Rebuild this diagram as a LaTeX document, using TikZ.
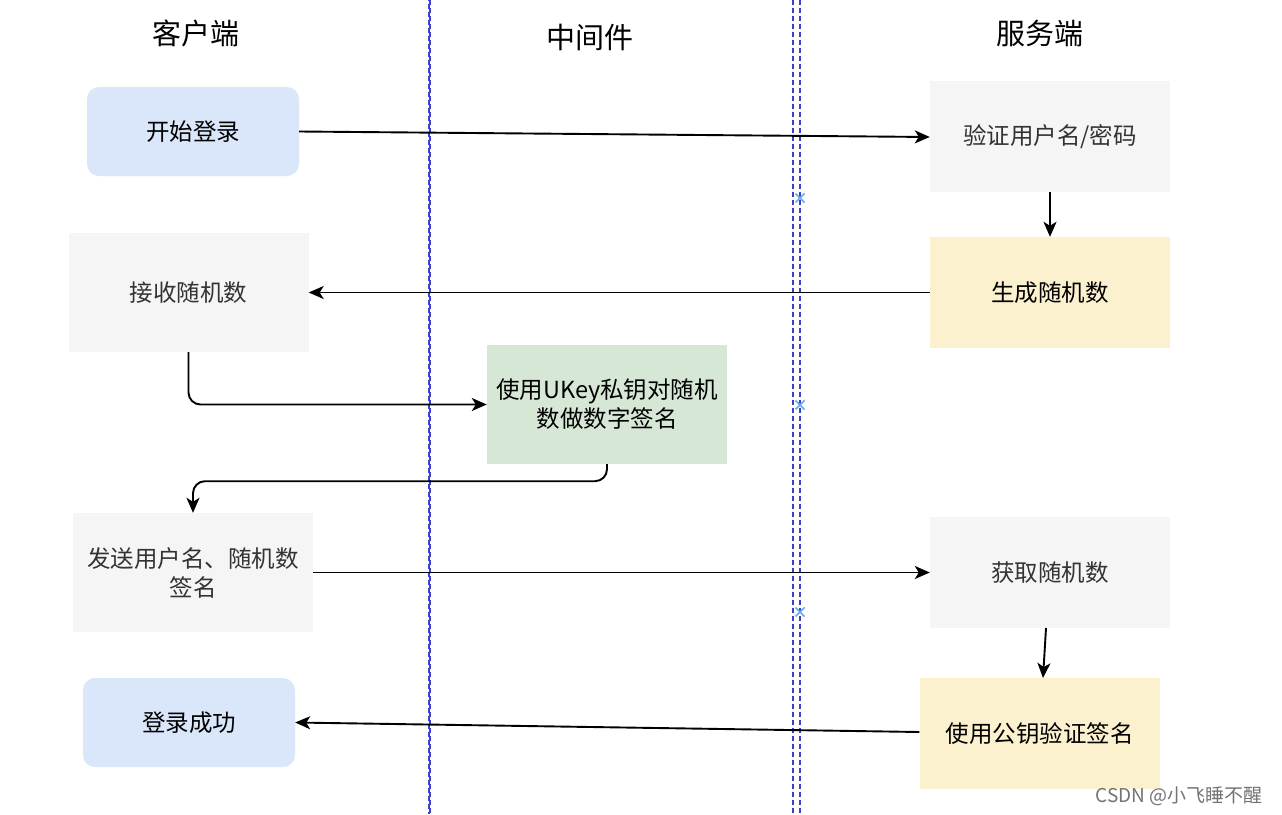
\documentclass[tikz,border=0pt]{standalone}
\usepackage{fontspec}
\setmainfont{Noto Sans CJK SC}
\usetikzlibrary{arrows.meta}
\definecolor{bluefill}{HTML}{DAE6F9}
\definecolor{grayfill}{HTML}{F5F5F5}
\definecolor{yellowfill}{HTML}{FCF1CE}
\definecolor{greenfill}{HTML}{D7E7D6}
\definecolor{lanecol}{HTML}{3B3FD0}
\definecolor{xcol}{HTML}{6AAAE6}
\definecolor{graytext}{HTML}{333333}
\tikzset{
  box/.style={draw=none, minimum width=#1, inner sep=0pt, align=center, font=\fontsize{23.5}{29}\selectfont},
  bluebox/.style={box=212pt, minimum height=89pt, fill=bluefill, rounded corners=12pt, text=black},
  graybox/.style={box=240pt, fill=grayfill, text=graytext},
  yellowbox/.style={box=240pt, fill=yellowfill, text=black},
  greenbox/.style={box=240pt, minimum height=119pt, fill=greenfill, text=black},
  head/.style={font=\fontsize{29}{34}\selectfont, text=black},
  conn/.style={line width=1.9pt, -{Stealth[length=15pt,width=13pt,inset=4pt]}, rounded corners=12pt},
  lane/.style={draw=lanecol, line width=1.6pt, dash pattern=on 5pt off 3pt},
  xmark/.style={draw=xcol, line width=1.6pt}
}
\begin{document}
\begin{tikzpicture}[x=1pt,y=-1pt]
\useasboundingbox[fill=white] (0,0) rectangle (1282,814);
% lanes
\draw[lane] (430,0) -- (430,814);
\draw[lane, dash phase=4pt] (428.8,0) -- (428.8,814);
\draw[lane] (793,0) -- (793,814);
\draw[lane] (800,0) -- (800,814);
\foreach \yy in {198,405,612}{
  \draw[xmark] (795.5,\yy-4.5) -- (804.5,\yy+4.5);
  \draw[xmark] (795.5,\yy+4.5) -- (804.5,\yy-4.5);
}
% headers
\node[head] (h1) at (196,33) {客户端};
\node[head] (h2) at (590,37) {中间件};
\node[head] (h3) at (1040,33) {服务端};
% nodes
\node[bluebox] (start) at (193,131.5) {开始登录};
\node[graybox, minimum height=111pt] (verify) at (1050,136.5) {验证用户名/密码};
\node[yellowbox, minimum height=111pt] (gen) at (1050,292.5) {生成随机数};
\node[graybox, minimum height=119pt] (recv) at (188.5,292.5) {接收随机数};
\node[greenbox] (sign) at (607,404.5) {使用UKey私钥对随机\\数做数字签名};
\node[graybox, minimum height=119pt] (send) at (193,572.5) {发送用户名、随机数\\签名};
\node[graybox, minimum height=111pt] (get) at (1050,572.5) {获取随机数};
\node[bluebox] (ok) at (189,722.5) {登录成功};
\node[yellowbox, minimum height=111pt] (pub) at (1039.5,733.5) {使用公钥验证签名};
% connectors
\draw[conn] (start.east) -- (verify.west |- 0,137);
\draw[conn] (verify.south) -- (gen.north);
\draw[conn] (gen.west) -- (recv.east);
\draw[conn] (recv.south) |- (sign.west);
\draw[conn] (sign.south) -- ++(0,17) -| (send.north);
\draw[conn] (send.east) -- (get.west);
\draw[conn] (1046,628) -- (1043,678);
\draw[conn] (pub.west |- 0,732) -- (ok.east);
% watermark
\node[font=\fontsize{19}{21}\selectfont, text=black!55, anchor=east] (wm) at (1266,796) {CSDN @小飞睡不醒};
\end{tikzpicture}
\end{document}
